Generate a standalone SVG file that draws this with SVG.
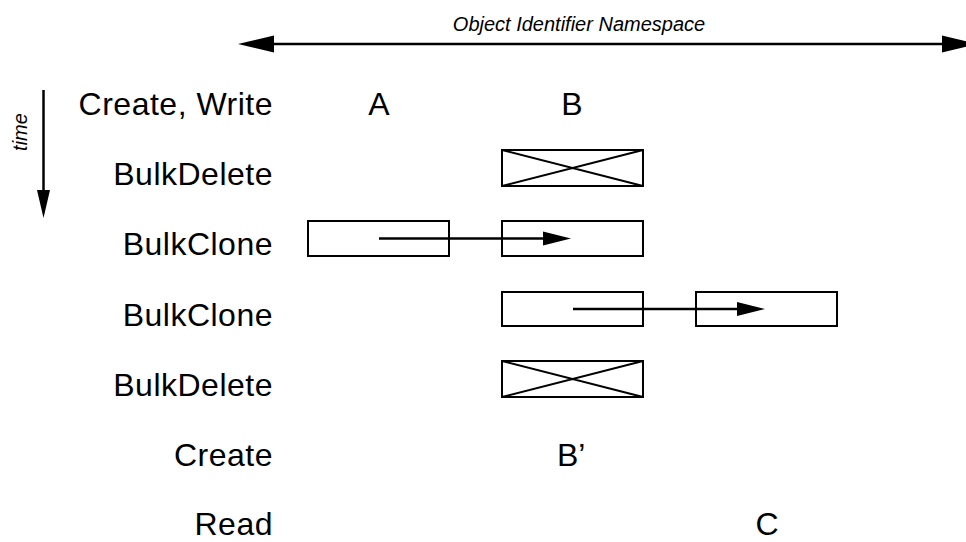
<svg xmlns="http://www.w3.org/2000/svg" width="966" height="542" viewBox="0 0 966 542">
<style>
text{font-family:"Liberation Sans",Arial,sans-serif;fill:#000}
.lbl{font-size:32px;text-anchor:end;letter-spacing:0.5px}
.ltr{font-size:32px;text-anchor:middle}
.it{font-style:italic;font-size:20px}
.box{fill:#fff;stroke:#000;stroke-width:2}
.x{stroke:#000;stroke-width:2;fill:none}
.ln{stroke:#000;stroke-width:2.5;fill:none}
.head{fill:#000;stroke:none}
</style>
<rect width="966" height="542" fill="#fff"/>
<g id="axes">
  <text class="it" x="579" y="31" text-anchor="middle">Object Identifier Namespace</text>
  <line class="ln" x1="270" y1="44" x2="945" y2="44"/>
  <polygon class="head" points="238,44 274,35.5 274,52.5"/>
  <polygon class="head" points="978,44 942,35.5 942,52.5"/>
  <text class="it" transform="translate(27,132) rotate(-90)" text-anchor="middle" font-size="20">time</text>
  <line class="ln" x1="43.5" y1="90" x2="43.5" y2="195"/>
  <polygon class="head" points="43.5,218 37,190 50,190"/>
</g>
<g id="labels">
  <text class="lbl" x="273" y="115">Create, Write</text>
  <text class="lbl" x="273" y="185">BulkDelete</text>
  <text class="lbl" x="273" y="255">BulkClone</text>
  <text class="lbl" x="273" y="326">BulkClone</text>
  <text class="lbl" x="273" y="396">BulkDelete</text>
  <text class="lbl" x="273" y="466">Create</text>
  <text class="lbl" x="273" y="535">Read</text>
</g>
<g id="letters">
  <text class="ltr" x="379" y="115">A</text>
  <text class="ltr" x="572" y="115">B</text>
  <text x="557" y="466" font-size="32">B’</text>
  <text class="ltr" x="767" y="535">C</text>
</g>
<g id="delete1">
  <rect class="box" x="502" y="150" width="141" height="36"/>
  <path class="x" d="M502,150 L643,186 M502,186 L643,150"/>
</g>
<g id="clone1">
  <rect class="box" x="308" y="221" width="141" height="35"/>
  <rect class="box" x="502" y="221" width="141" height="35"/>
</g>
<g id="clone2">
  <rect class="box" x="502" y="292" width="141" height="34"/>
  <rect class="box" x="696" y="292" width="141" height="34"/>
</g>
<g id="delete2">
  <rect class="box" x="502" y="361" width="141" height="36"/>
  <path class="x" d="M502,361 L643,397 M502,397 L643,361"/>
</g>
<g id="connectors">
  <line class="ln" x1="379" y1="238.5" x2="545" y2="238.5"/>
  <polygon class="head" points="571,238.5 543,231.5 543,245.5"/>
  <line class="ln" x1="573" y1="309" x2="739" y2="309"/>
  <polygon class="head" points="765,309 737,302 737,316"/>
</g>
</svg>
